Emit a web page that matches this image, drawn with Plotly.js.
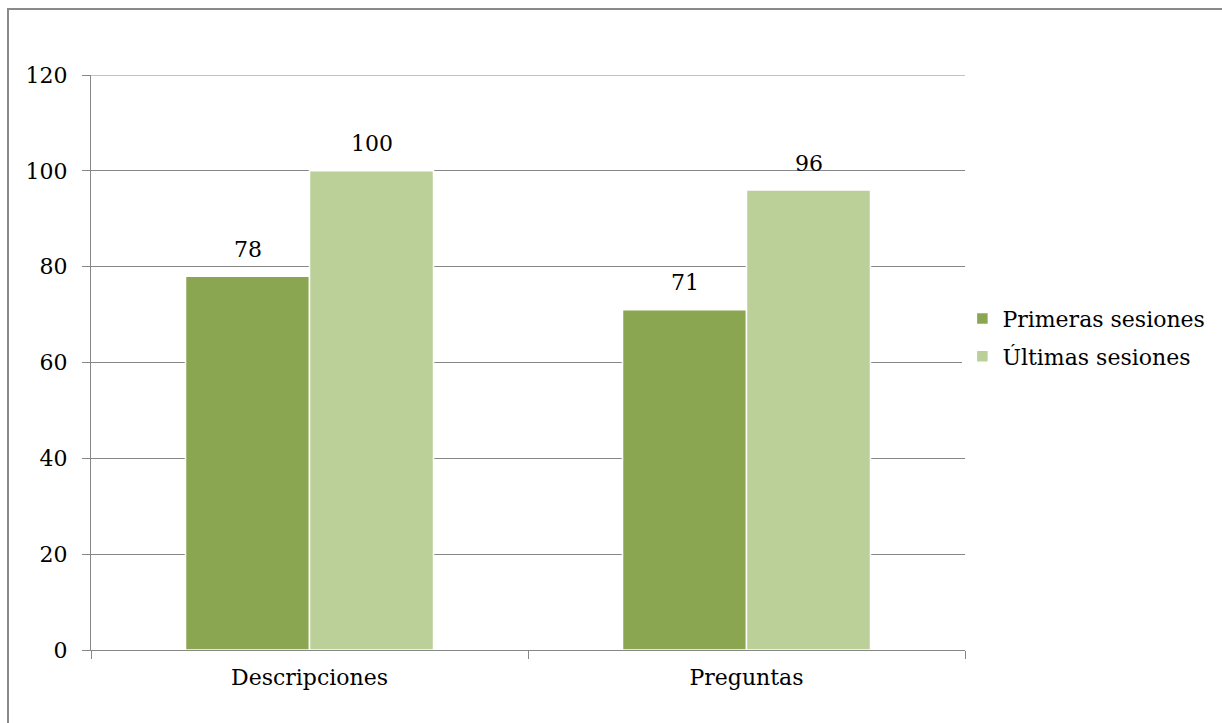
<!DOCTYPE html>
<html>
<head>
<meta charset="utf-8">
<script src="https://cdn.plot.ly/plotly-3.0.1.min.js"></script>
<style>html,body{margin:0;padding:0;background:#fff;} #chart{width:1222px;height:723px;}</style>
</head>
<body>
<div id="chart"></div>
<script>
const categories = ["Descripciones", "Preguntas"];
const seriesNames = ["Primeras sesiones", "Últimas sesiones"];
const primeras = [78, 71];
const ultimas = [100, 96];
const yTicks = [0, 20, 40, 60, 80, 100, 120];

const FONT = "DejaVu Serif";
const FS = 22;
const GRID = "#878787";
const COLORS = ["#8BA650", "#BBCF98"];

const traces = [
  {type: "bar", name: seriesNames[0], x: categories, y: primeras, offsetgroup: "a", legendgroup: "a",
   marker: {color: COLORS[0], line: {color: "#ffffff", width: 1.5}}},
  {type: "bar", name: seriesNames[1], x: categories, y: ultimas, offsetgroup: "b", legendgroup: "b",
   marker: {color: COLORS[1], line: {color: "#ffffff", width: 1.5}}}
];

const groupHalf = 0.5 * (1 - 0.4325);
const barW = groupHalf;
const annotations = [];
[primeras, ultimas].forEach(function (vals, si) {
  vals.forEach(function (v, ci) {
    annotations.push({
      x: ci - groupHalf + barW * (si + 0.5), xref: "x",
      y: v, yref: "y", yshift: 27, yanchor: "middle", xanchor: "center",
      text: String(v), showarrow: false,
      font: {family: FONT, size: FS, color: "#000"}
    });
  });
});

const layout = {
  width: 1222, height: 723,
  margin: {l: 91, r: 257, t: 75, b: 73, autoexpand: false},
  paper_bgcolor: "#fff", plot_bgcolor: "#fff",
  font: {family: FONT, size: FS, color: "#000"},
  barmode: "group", bargap: 0.4325, bargroupgap: 0,
  showlegend: true,
  legend: {x: 0.997, y: 0.543, xanchor: "left", yanchor: "middle",
           font: {family: FONT, size: FS, color: "#000"}, itemwidth: 30, tracegroupgap: 6},
  xaxis: {type: "category", showline: true, linecolor: GRID, linewidth: 1,
          ticks: "outside", tickson: "boundaries", ticklen: 8, tickcolor: GRID,
          showgrid: false, tickfont: {family: FONT, size: FS}, ticklabelstandoff: 8,
          fixedrange: true},
  yaxis: {range: [0, 120], tickvals: yTicks, ticktext: yTicks.map(String),
          showline: true, linecolor: GRID, linewidth: 1,
          ticks: "outside", ticklen: 8, tickcolor: GRID,
          showgrid: true, gridcolor: GRID, gridwidth: 1, zeroline: false,
          tickfont: {family: FONT, size: FS}, ticklabelstandoff: 10, fixedrange: true},
  annotations: annotations,
  shapes: [
    {type: "line", xref: "paper", x0: 0, x1: 1, yref: "y", y0: yTicks[yTicks.length - 1], y1: yTicks[yTicks.length - 1],
     line: {color: GRID, width: 1}, layer: "below"},
    {type: "rect", xref: "paper", yref: "paper",
     x0: (8 - 91) / 874, x1: (1240 - 91) / 874,
     y0: (650 - 740) / 575, y1: (650 - 9) / 575,
     line: {color: "#8a8a8a", width: 2}, fillcolor: "rgba(0,0,0,0)", layer: "above"}
  ]
};

Plotly.newPlot("chart", traces, layout, {staticPlot: true, displayModeBar: false});
</script>
</body>
</html>
